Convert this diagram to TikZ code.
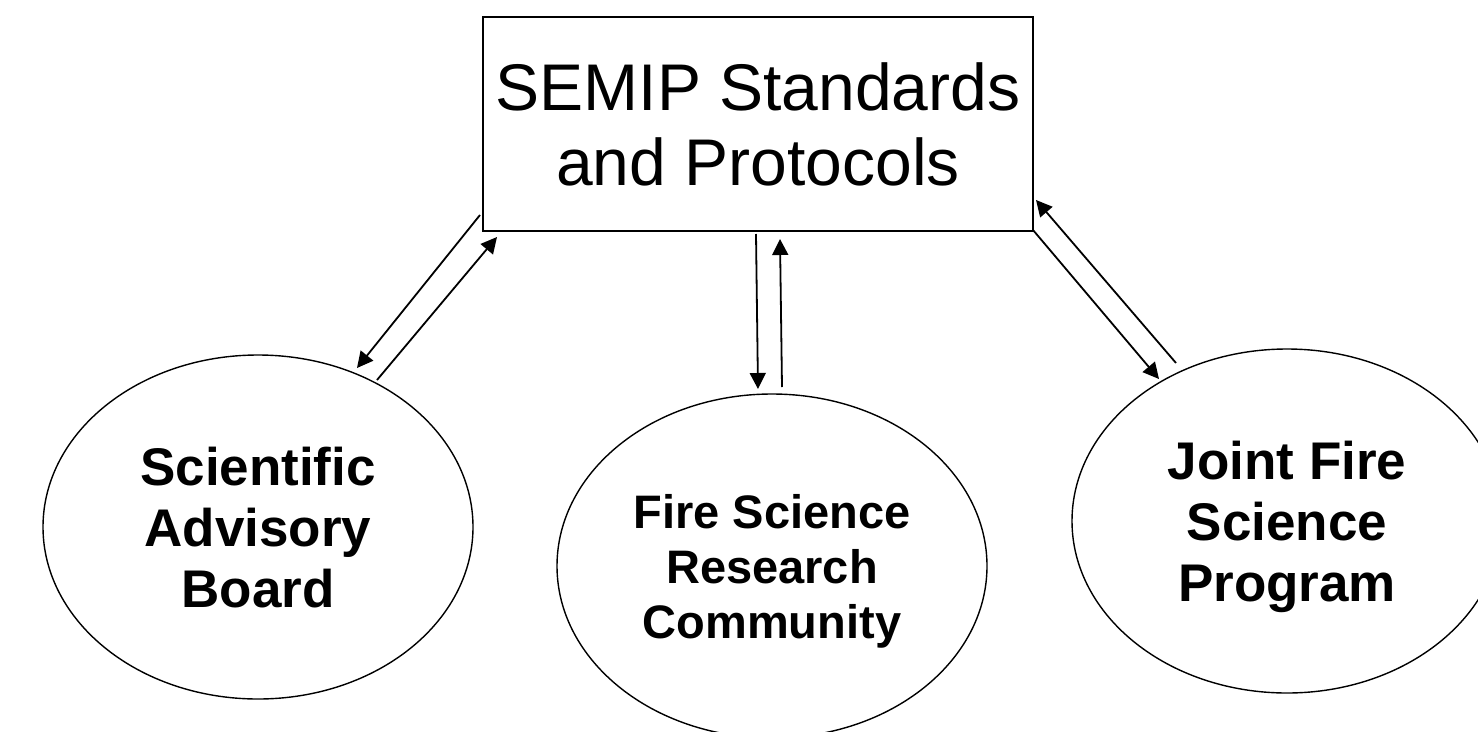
\documentclass[tikz,border=0pt]{standalone}
\usepackage{fontspec}
\setmainfont{Liberation Sans}
\usetikzlibrary{arrows.meta,shapes.geometric}
\begin{document}
\begin{tikzpicture}[x=1pt,y=-1pt,
  box/.style={draw,line width=1.8pt,minimum width=550pt,minimum height=214pt,inner sep=0pt,align=center,
    font=\fontsize{66}{75}\selectfont},
  ell/.style={draw,ellipse,line width=1.4pt,minimum width=430pt,minimum height=344pt,inner sep=0pt,align=center,
    text depth=0pt,font=\bfseries\fontsize{53}{61}\selectfont},
  arr/.style={line width=1.8pt,-{Triangle[length=16pt,width=16pt]}}]
\useasboundingbox (0,0) rectangle (1478,731);
\begin{scope}
\clip (0,0) rectangle (1478,731);
\node[box] (semip) at (758,124) {SEMIP Standards\\and Protocols};
\node[ell] (sab) at (258,527) {Scientific\\Advisory\\Board};
\node[ell,font=\bfseries\fontsize{47}{55}\selectfont] (fsrc) at (772,566) {Fire Science\\Research\\Community};
\node[ell] (jfsp) at (1287,521) {Joint Fire\\Science\\Program};
\end{scope}
\coordinate (l1s) at (480,215);
\coordinate (l1e) at (357,368);
\coordinate (l2s) at (377,380);
\coordinate (l2e) at (497,237);
\coordinate (m1s) at (756,234);
\coordinate (m1e) at (758,389);
\coordinate (m2s) at (782,387);
\coordinate (m2e) at (780,239);
\coordinate (r1s) at (1033,230);
\coordinate (r1e) at (1159,379);
\coordinate (r2s) at (1176,363);
\coordinate (r2e) at (1036,200);
\draw[arr] (l1s) -- (l1e);
\draw[arr] (l2s) -- (l2e);
\draw[arr] (m1s) -- (m1e);
\draw[arr] (m2s) -- (m2e);
\draw[arr] (r1s) -- (r1e);
\draw[arr] (r2s) -- (r2e);
\end{tikzpicture}
\end{document}
